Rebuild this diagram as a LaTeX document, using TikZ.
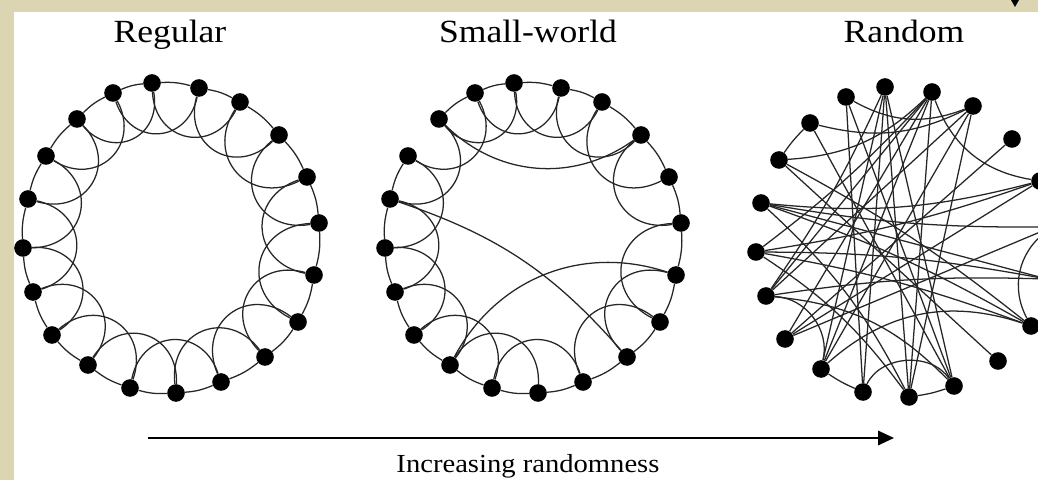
\documentclass[tikz,border=0pt]{standalone}
\usepackage{fontspec}
\usepackage{tikz}
\usetikzlibrary{arrows.meta}
\newfontfamily\capfont[FakeStretch=1.1]{Liberation Serif}
\definecolor{parchment}{RGB}{219,213,178}
\tikzstyle{dot}=[circle, fill=black, inner sep=0pt, minimum size=0.44cm]
\tikzstyle{link}=[-, line width=0.9pt, black!85]
\tikzstyle{heading}=[anchor=base, font=\capfont\fontsize{23}{26}\selectfont]
\tikzstyle{caption}=[anchor=base, font=\capfont\fontsize{18.5}{21}\selectfont]

% twenty spots of a ring, as offsets from its centre, clockwise from the top
\newcommand{\ringspots}{1/-19/155, 2/28/150, 3/69/136, 4/108/103, 5/136/61,
  6/148/15, 7/143/-37, 8/127/-84, 9/94/-119, 10/50/-144, 11/5/-155,
  12/-41/-150, 13/-83/-127, 14/-119/-97, 15/-138/-54, 16/-148/-10,
  17/-143/39, 18/-125/82, 19/-94/119, 20/-58/145}
\newcommand{\putring}[1]{\foreach \k/\dx/\dy in \ringspots {\node[dot] (#1\k) at (\dx,\dy) {};}}

\begin{document}
\begin{tikzpicture}[x=0.025cm, y=0.025cm]
\useasboundingbox (0,0) rectangle (1038,480);
\clip (0,0) rectangle (1038,480);
\fill[parchment] (0,0) rectangle (1038,480);
\fill[white] (14,0) rectangle (1038,468);
\fill (1011,480) -- (1019,480) -- (1015,473) -- cycle;

\node[heading] (regtitle) at (170,437) {Regular};
\node[heading] (swtitle) at (528,437) {Small-world};
\node[heading] (rndtitle) at (904,437) {Random};

% regular ring lattice
\begin{scope}[shift={(171,242)}]
\putring{reg}
\end{scope}
\foreach \k in {1,...,20} {
  \pgfmathtruncatemacro{\n}{mod(\k,20)+1}
  \pgfmathtruncatemacro{\m}{mod(\k+1,20)+1}
  \draw[link] (reg\k) to[bend left=9] (reg\n);
  \draw[link] (reg\k) to[bend right=75, looseness=1.5] (reg\m);
}

% small-world: a few links rewired
\begin{scope}[shift={(533,242)}]
\putring{sw}
\end{scope}
\foreach \k in {1,...,20} {
  \pgfmathtruncatemacro{\n}{mod(\k,20)+1}
  \pgfmathtruncatemacro{\m}{mod(\k+1,20)+1}
  \ifnum\k=18 \else \draw[link] (sw\k) to[bend left=9] (sw\n); \fi
  \ifnum\k=9 \else \ifnum\k=5 \else
    \draw[link] (sw\k) to[bend right=75, looseness=1.5] (sw\m);
  \fi \fi
}
\draw[link] (sw19) to[bend right=40] (sw4);
\draw[link] (sw17) to[bend left=15] (sw9);
\draw[link] (sw13) to[bend left=40] (sw7);

% random
\begin{scope}[shift={(904,238)}]
\putring{rnd}
\end{scope}
\foreach \a/\b/\t in {18/19/5, 3/19/20, 3/20/25, 2/18/20, 20/12/0, 5/17/10,
  16/7/5, 2/16/5, 16/8/5, 15/13/50, 15/7/5, 14/4/0, 14/5/0, 15/3/0,
  12/13/5, 13/2/0, 13/8/30, 12/10/60, 11/1/0, 11/2/0, 11/3/0, 10/11/5,
  17/11/10, 10/1/0, 10/19/0, 15/10/20, 9/18/0, 18/8/5, 8/6/40, 17/8/5,
  6/17/5, 5/2/30, 2/15/0, 1/13/0, 1/12/0, 3/13/0, 5/16/5, 7/17/0, 6/14/0,
  2/14/0, 20/10/0, 16/11/10, 1/15/5}
  \draw[link] (rnd\a) to[bend left=\t] (rnd\b);

% trend arrow
\coordinate (arrowtail) at (148,42);
\coordinate (arrowtip) at (894,42);
\draw[-{Triangle[length=0.4cm, width=0.36cm]}, line width=1.5pt] (arrowtail) -- (arrowtip);
\node[caption] (trend) at (528,8) {Increasing randomness};
\end{tikzpicture}
\end{document}
